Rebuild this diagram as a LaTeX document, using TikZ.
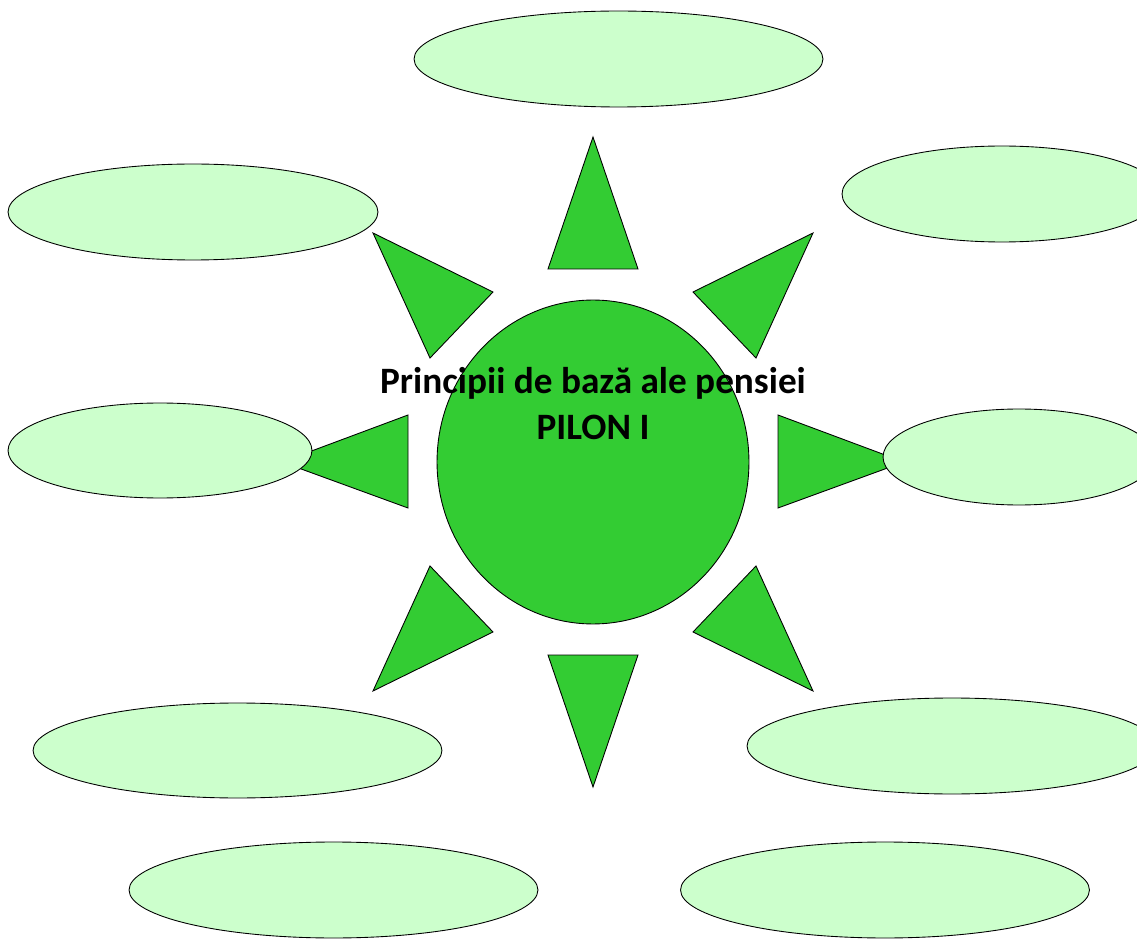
\documentclass[tikz,border=0pt]{standalone}
\usepackage{fontspec}
\setmainfont{Carlito}
\usepackage{tikz}
\usetikzlibrary{shapes.geometric}

\definecolor{sungreen}{HTML}{33CC33}
\definecolor{petalgreen}{HTML}{CCFFCC}

\begin{document}
\begin{tikzpicture}[x=0.02cm, y=-0.02cm, line width=0.5pt,
    ray/.style={draw=black, fill=sungreen, line join=miter},
    petal/.style={ellipse, draw=black, fill=petalgreen, inner sep=0pt, minimum height=1.92cm}]
  \useasboundingbox (0,0) rectangle (1137,939);
  \clip (0,0) rectangle (1137,939);
  % --- rays ---
  \filldraw[ray] (593,137) -- (638,269) -- (548,269) -- cycle;
  \filldraw[ray] (593,787) -- (638,655) -- (548,655) -- cycle;
  \filldraw[ray] (282,462) -- (408,415) -- (408,508) -- cycle;
  \filldraw[ray] (904,462) -- (778,415) -- (778,508) -- cycle;
  \filldraw[ray] (373,233) -- (493,292) -- (430,358) -- cycle;
  \filldraw[ray] (813,233) -- (693,292) -- (756,358) -- cycle;
  \filldraw[ray] (373,691) -- (493,632) -- (430,566) -- cycle;
  \filldraw[ray] (813,691) -- (693,632) -- (756,566) -- cycle;
  % --- sun ---
  \node[ellipse, draw=black, fill=sungreen, inner sep=0pt,
        minimum width=6.24cm, minimum height=6.48cm] (sun) at (593,462) {};
  % --- petals ---
  \node[petal, minimum width=8.18cm] (top) at (618.5,59) {};
  \node[petal, minimum width=7.40cm] (upleft) at (193,212) {};
  \node[petal, minimum width=6.40cm] (upright) at (1002,194) {};
  \node[petal, minimum width=6.08cm, minimum height=1.90cm] (midleft) at (160,450.5) {};
  \node[petal, minimum width=5.44cm] (midright) at (1019,457) {};
  \node[petal, minimum width=8.18cm, minimum height=1.90cm] (lowleft) at (237.5,750.5) {};
  \node[petal, minimum width=8.20cm] (lowright) at (952,746) {};
  \node[petal, minimum width=8.18cm] (botleft) at (333.5,890) {};
  \node[petal, minimum width=8.18cm] (botright) at (885,890) {};
  % --- title ---
  \node[anchor=base, align=center, inner sep=0pt,
        font=\fontsize{21.2}{25.8}\selectfont\bfseries] (title) at (593,439)
    {Principii de bază ale pensiei\\PILON I};
\end{tikzpicture}
\end{document}
